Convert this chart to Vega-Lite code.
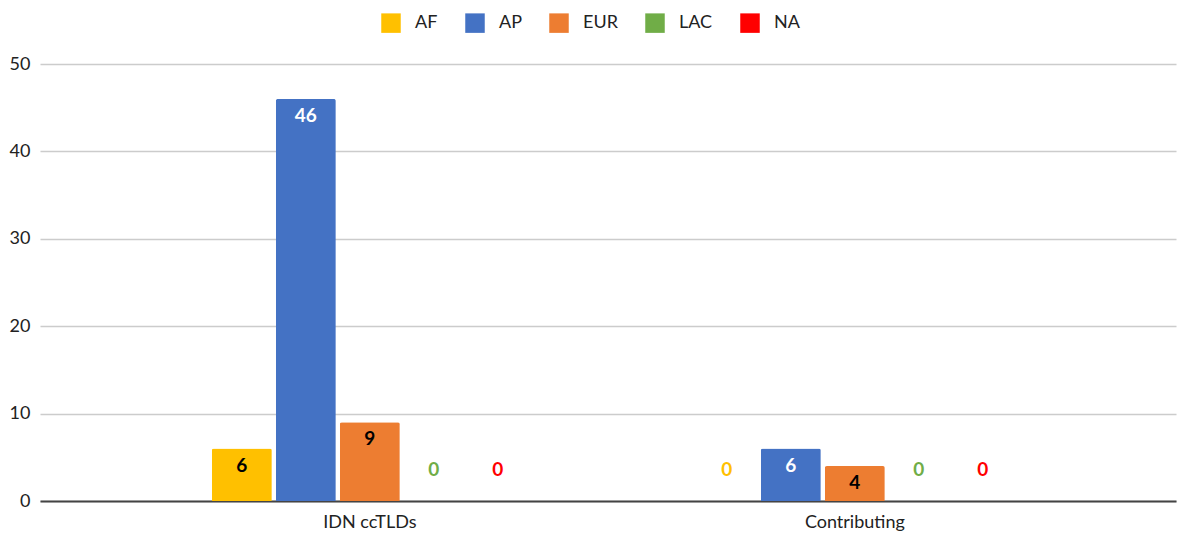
{
  "$schema": "https://vega.github.io/schema/vega-lite/v6.json",
  "autosize": "none",
  "width": 1136,
  "height": 437,
  "padding": {"left": 40, "top": 64, "right": 1, "bottom": 34},
  "background": "white",
  "config": {
    "view": {"stroke": null},
    "font": "Lato"
  },
  "data": {
    "values": [
      {"category": "IDN ccTLDs", "region": "AF", "value": 6},
      {"category": "IDN ccTLDs", "region": "AP", "value": 46},
      {"category": "IDN ccTLDs", "region": "EUR", "value": 9},
      {"category": "IDN ccTLDs", "region": "LAC", "value": 0},
      {"category": "IDN ccTLDs", "region": "NA", "value": 0},
      {"category": "Contributing", "region": "AF", "value": 0},
      {"category": "Contributing", "region": "AP", "value": 6},
      {"category": "Contributing", "region": "EUR", "value": 4},
      {"category": "Contributing", "region": "LAC", "value": 0},
      {"category": "Contributing", "region": "NA", "value": 0}
    ]
  },
  "encoding": {
    "x": {
      "field": "category",
      "type": "nominal",
      "sort": ["IDN ccTLDs", "Contributing"],
      "scale": {"paddingInner": 0.3485, "paddingOuter": 0.3454, "align": 0.513},
      "axis": {
        "title": null,
        "labelAngle": 0,
        "ticks": false,
        "labelPadding": 12,
        "labelFontSize": 18,
        "labelColor": "#222222",
        "domainColor": "#444444",
        "domainWidth": 2,
        "grid": false
      }
    },
    "xOffset": {
      "field": "region",
      "type": "nominal",
      "sort": ["AF", "AP", "EUR", "LAC", "NA"],
      "scale": {"paddingInner": 0.0625, "paddingOuter": 0}
    },
    "y": {
      "field": "value",
      "type": "quantitative",
      "scale": {"domain": [0, 50]},
      "axis": {
        "title": null,
        "values": [0, 10, 20, 30, 40, 50],
        "ticks": false,
        "domain": false,
        "labelPadding": 10,
        "labelFontSize": 18,
        "labelColor": "#222222",
        "gridColor": "#cccccc",
        "gridWidth": 1.5
      }
    }
  },
  "layer": [
    {
      "mark": {"type": "bar", "cornerRadiusTopLeft": 2, "cornerRadiusTopRight": 2},
      "encoding": {
        "color": {
          "field": "region",
          "type": "nominal",
          "sort": ["AF", "AP", "EUR", "LAC", "NA"],
          "scale": {
            "domain": ["AF", "AP", "EUR", "LAC", "NA"],
            "range": ["#FFC000", "#4472C4", "#ED7D31", "#70AD47", "#FF0000"]
          },
          "legend": {
            "title": null,
            "orient": "none",
            "direction": "horizontal",
            "legendX": 341,
            "legendY": -51,
            "symbolType": "square",
            "symbolSize": 380,
            "symbolStrokeWidth": 0,
            "symbolOpacity": 1,
            "labelFontSize": 18,
            "labelColor": "#222222",
            "labelOffset": 14,
            "columnPadding": 27
          }
        }
      }
    },
    {
      "transform": [{"filter": "datum.value > 0"}],
      "mark": {"type": "text", "baseline": "middle", "dy": 17, "fontSize": 19, "fontWeight": "bold"},
      "encoding": {
        "text": {"field": "value", "type": "quantitative"},
        "color": {
          "condition": {"test": "datum.region === 'AP'", "value": "white"},
          "value": "black"
        }
      }
    },
    {
      "transform": [{"filter": "datum.value == 0"}],
      "mark": {"type": "text", "baseline": "middle", "dy": -31, "fontSize": 19, "fontWeight": "bold"},
      "encoding": {
        "text": {"field": "value", "type": "quantitative"},
        "color": {
          "condition": [
            {"test": "datum.region === 'AF'", "value": "#FFC000"},
            {"test": "datum.region === 'AP'", "value": "#4472C4"},
            {"test": "datum.region === 'EUR'", "value": "#ED7D31"},
            {"test": "datum.region === 'LAC'", "value": "#70AD47"}
          ],
          "value": "#FF0000"
        }
      }
    }
  ]
}
